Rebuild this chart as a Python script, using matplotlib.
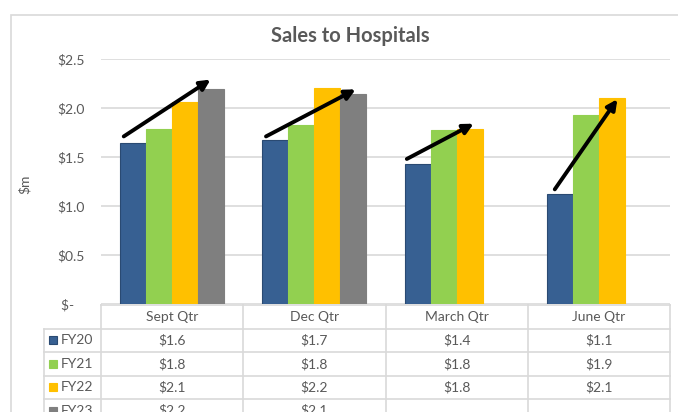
import matplotlib
matplotlib.use('Agg')
import matplotlib.pyplot as plt
from matplotlib.patches import Rectangle
from matplotlib.lines import Line2D
import numpy as np

W, H = 678, 412

quarters = ['Sept Qtr', 'Dec Qtr', 'March Qtr', 'June Qtr']
years = ['FY20', 'FY21', 'FY22', 'FY23']
fy20 = [1.64, 1.67, 1.43, 1.12]
fy21 = [1.79, 1.83, 1.78, 1.93]
fy22 = [2.06, 2.20, 1.79, 2.10]
fy23 = [2.19, 2.14, np.nan, np.nan]
series = [fy20, fy21, fy22, fy23]
colors = ['#376092', '#92D050', '#FFC000', '#7F7F7F']
edges = ['#2A4A72', '#92D050', '#FFC000', '#7F7F7F']

# hand drawn growth arrows, in data units
arrow_x0 = [-0.34, 0.66, 1.65, 2.69]
arrow_y0 = [1.71, 1.71, 1.48, 1.17]
arrow_x1 = [0.27, 1.29, 2.12, 3.13]
arrow_y1 = [2.29, 2.19, 1.84, 2.09]

yticks = [0, 0.5, 1.0, 1.5, 2.0, 2.5]
ytick_labels = ['$-   ', '$0.5', '$1.0', '$1.5', '$2.0', '$2.5']

grey = '#595959'
line_grey = '#D9D9D9'
plt.rcParams['font.family'] = ['Lato', 'DejaVu Sans']


def fx(px):
    return px / W


def fy(py):
    return 1 - py / H


fig = plt.figure(figsize=(W / 100, H / 100), dpi=100)

# chart area border (runs off the right and bottom edges)
fig.patches.append(Rectangle((fx(11), fy(440)), fx(700), 425 / H,
                             transform=fig.transFigure, fill=False,
                             edgecolor=line_grey, lw=1.2))

ax_l, ax_r, ax_b, ax_t = 101, 670, 304, 59
ax = fig.add_axes([fx(ax_l), fy(ax_b), (ax_r - ax_l) / W, (ax_b - ax_t) / H])

x = np.arange(len(quarters))
bw = 0.183
for i, vals in enumerate(series):
    ax.bar(x + (i - 1.5) * bw, vals, bw, color=colors[i],
           edgecolor=edges[i], linewidth=0.8, zorder=3)

for i in range(len(quarters)):
    ax.annotate('', xy=(arrow_x1[i], arrow_y1[i]),
                xytext=(arrow_x0[i], arrow_y0[i]),
                arrowprops=dict(arrowstyle='-|>', color='black', lw=2.8,
                                mutation_scale=15, shrinkA=0, shrinkB=0),
                zorder=5)

ax.set_xlim(-0.5, 3.5)
ax.set_ylim(0, 2.5)
ax.set_yticks(yticks)
ax.set_yticklabels(ytick_labels, color=grey, fontsize=10)
ax.tick_params(axis='y', length=0, pad=12)
ax.set_xticks([])
ax.yaxis.grid(True, color=line_grey, lw=1.2, zorder=0)
for s in ax.spines.values():
    s.set_visible(False)

fig.text(fx(350), fy(36), 'Sales to Hospitals', ha='center', va='center',
         fontsize=14.5, fontweight='bold', color=grey)
fig.text(fx(25), fy(184), '$m', rotation=90, ha='center', va='center',
         fontsize=10, color=grey)

# data table below the plot
col_edges = [fx(ax_l) + k * (ax_r - ax_l) / W / 4 for k in range(5)]
col_mid = [(col_edges[k] + col_edges[k + 1]) / 2 for k in range(4)]
row_h = 23.5
row_top = 305
rows = [row_top + k * row_h for k in range(6)]
kw = dict(transform=fig.transFigure, color=line_grey, lw=1.2)

fig.lines.append(Line2D([col_edges[0], col_edges[-1]], [fy(rows[0])] * 2, **kw))
for r in rows[1:]:
    fig.lines.append(Line2D([fx(44), col_edges[-1]], [fy(r)] * 2, **kw))
for c in col_edges:
    fig.lines.append(Line2D([c, c], [fy(rows[0]), fy(rows[-1])], **kw))
fig.lines.append(Line2D([fx(44), fx(44)], [fy(rows[1]), fy(rows[-1])], **kw))

for k, q in enumerate(quarters):
    fig.text(col_mid[k], fy(rows[0] + row_h / 2), q, ha='center',
             va='center', fontsize=10, color=grey)

for i, vals in enumerate(series):
    yc = fy(rows[i + 1] + row_h / 2)
    fig.patches.append(Rectangle((fx(49), yc - 4 / H), 8 / W, 8 / H,
                                 transform=fig.transFigure,
                                 facecolor=colors[i], edgecolor=edges[i],
                                 lw=0.8))
    fig.text(fx(61), yc, years[i], ha='left', va='center', fontsize=10,
             color=grey)
    for k, v in enumerate(vals):
        if np.isnan(v):
            continue
        fig.text(col_mid[k], yc, '${:.1f}'.format(v), ha='center',
                 va='center', fontsize=10, color=grey)

fig.savefig('out.png', dpi=100)
